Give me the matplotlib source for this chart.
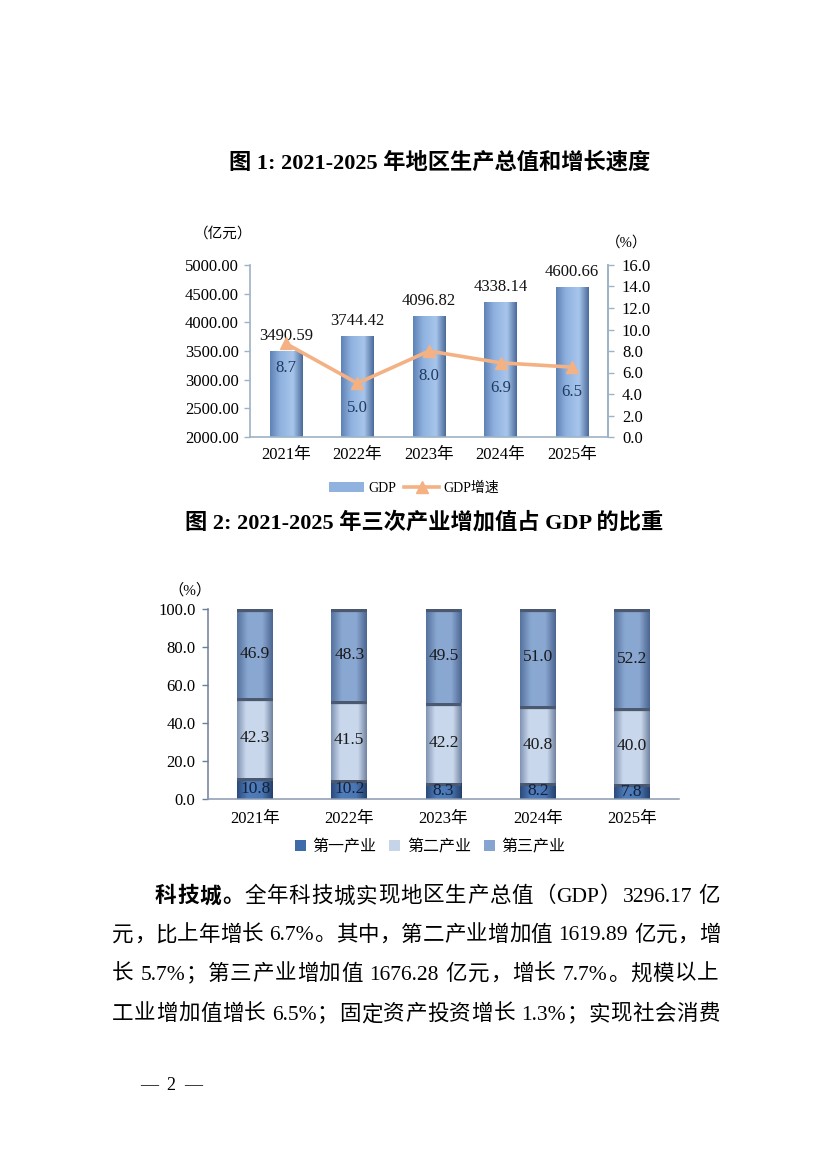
import re
import numpy as np
import matplotlib
matplotlib.use('Agg')
import matplotlib.pyplot as plt
from matplotlib.colors import LinearSegmentedColormap

plt.rcParams['font.family'] = ['Liberation Serif', 'Noto Sans CJK SC']
plt.rcParams['axes.unicode_minus'] = False

# ---- data ----
years = ['2021年', '2022年', '2023年', '2024年', '2025年']
gdp = [3490.59, 3744.42, 4096.82, 4338.14, 4600.66]
gdp_growth = [8.7, 5.0, 8.0, 6.9, 6.5]

primary = [10.8, 10.2, 8.3, 8.2, 7.8]
secondary = [42.3, 41.5, 42.2, 40.8, 40.0]
tertiary = [46.9, 48.3, 49.5, 51.0, 52.2]
sector_names = ['第一产业', '第二产业', '第三产业']

title1 = '图 1: 2021-2025 年地区生产总值和增长速度'
title2 = '图 2: 2021-2025 年三次产业增加值占 GDP 的比重'
body_lines = [
    [('科技城。', 'bold'), ('全年科技城实现地区生产总值（GDP）3296.17 亿', 'normal')],
    [('元，比上年增长 6.7%。其中，第二产业增加值 1619.89 亿元，增', 'normal')],
    [('长 5.7%；第三产业增加值 1676.28 亿元，增长 7.7%。规模以上', 'normal')],
    [('工业增加值增长 6.5%；固定资产投资增长 1.3%；实现社会消费', 'normal')],
]

W, H = 826, 1169
fig = plt.figure(figsize=(W / 100, H / 100), dpi=100)
fig.patch.set_facecolor('white')


def fx(px):
    return px / W


def fy(py):
    return 1 - py / H


def shade(ax, patch, stops):
    # horizontal gradient fill on a bar, kept inside the visible y range
    cmap = LinearSegmentedColormap.from_list('g', stops)
    x0, y0 = patch.get_x(), patch.get_y()
    w, h = patch.get_width(), patch.get_height()
    lo = max(y0, ax.get_ylim()[0])
    grad = np.linspace(0, 1, 128).reshape(1, -1)
    ax.imshow(grad, cmap=cmap, aspect='auto', extent=[x0, x0 + w, lo, y0 + h],
              zorder=patch.get_zorder() + 0.1, interpolation='bilinear')


x = np.arange(len(years))

# ---- chart 1 ----
ax1 = fig.add_axes([fx(250), fy(437), (608 - 250) / W, (437 - 265) / H])
bars = ax1.bar(x, gdp, width=0.45, color='#8FB2DF', zorder=2, label='GDP')
ax1.set_xlim(-0.5, 4.5)
ax1.set_ylim(2000, 5000)
for p in bars:
    shade(ax1, p, [(0, '#5F82B5'), (0.3, '#8EB1DF'), (0.7, '#A8C6EC'), (1, '#4A6A9A')])
ax1.set_xlim(-0.5, 4.5)
ax1.set_ylim(2000, 5000)
ax1.set_yticks(np.arange(2000, 5001, 500))
ax1.set_yticklabels([f'{v:.2f}' for v in np.arange(2000, 5001, 500)], fontsize=12)
ax1.set_xticks(x)
ax1.set_xticklabels(years, fontsize=12)
ax1.tick_params(axis='x', length=0, pad=7)
ax1.tick_params(axis='y', length=4, width=1, color='#9DB3C6', pad=4, direction='out')
ax1.spines['top'].set_visible(False)
for s in ['left', 'bottom', 'right']:
    ax1.spines[s].set_color('#9DB3C6')
    ax1.spines[s].set_linewidth(1.2)
for i, v in enumerate(gdp):
    ax1.annotate(f'{v:.2f}', (i, v), xytext=(0, 11.5), textcoords='offset points',
                 ha='center', va='center', fontsize=12, color='#111111')

ax2 = ax1.twinx()
line, = ax2.plot(x, gdp_growth, color='#F4B183', lw=2.6, marker='^', ms=9,
                 markeredgecolor='#F4B183', zorder=3, label='GDP增速')
ax2.set_ylim(0, 16)
ax2.set_yticks(np.arange(0, 16.1, 2))
ax2.set_yticklabels([f'{v:.1f}' for v in np.arange(0, 16.1, 2)], fontsize=12)
ax2.tick_params(axis='y', length=4, width=1, color='#9DB3C6', pad=6)
for s in ['top', 'left', 'bottom']:
    ax2.spines[s].set_visible(False)
ax2.spines['right'].set_color('#9DB3C6')
ax2.spines['right'].set_linewidth(1.2)
for i, v in enumerate(gdp_growth):
    ax2.annotate(f'{v:.1f}', (i, v), xytext=(0, -18), textcoords='offset points',
                 ha='center', va='center', fontsize=12, color='#1F3A60')

fig.text(fx(223), fy(234), '（亿元）', ha='center', va='center', fontsize=10.5)
fig.text(fx(627), fy(243), '（%）', ha='center', va='center', fontsize=10.5)

ax1.legend(handles=[bars, line], labels=['GDP', 'GDP增速'], loc='center',
           bbox_to_anchor=(fx(414), fy(488)), bbox_transform=fig.transFigure,
           ncol=2, frameon=False, fontsize=10, handlelength=2.5, handleheight=0.7,
           columnspacing=0.6, handletextpad=0.3)

# ---- chart 2 ----
ax3 = fig.add_axes([fx(208), fy(799), (679 - 208) / W, (799 - 609) / H])
bottom2 = np.array(primary)
bottom3 = bottom2 + np.array(secondary)
b1 = ax3.bar(x, primary, width=0.38, color='#3F6BA8', zorder=2, label=sector_names[0])
b2 = ax3.bar(x, secondary, width=0.38, bottom=bottom2, color='#C6D4EA', zorder=2, label=sector_names[1])
b3 = ax3.bar(x, tertiary, width=0.38, bottom=bottom3, color='#85A4CF', zorder=2, label=sector_names[2])
ax3.set_xlim(-0.5, 4.5)
ax3.set_ylim(0, 100)
stops = {
    0: [(0, '#2A4A7C'), (0.3, '#4F7DBB'), (0.7, '#4A77B4'), (1, '#233F6C')],
    1: [(0, '#7F93B2'), (0.25, '#C9D7EC'), (0.75, '#CAD8EC'), (1, '#6F82A0')],
    2: [(0, '#56729E'), (0.3, '#88A7D1'), (0.7, '#8AA8D2'), (1, '#4B6590')],
}
for k, cont in enumerate([b1, b2, b3]):
    for p in cont:
        shade(ax3, p, stops[k])
        top = p.get_y() + p.get_height()
        ln, = ax3.plot([p.get_x(), p.get_x() + p.get_width()], [top, top],
                       color='#4A5870', lw=4.5, solid_capstyle='butt', zorder=2.5)
        ln.set_clip_path(p)

for cont, vals, bots in [(b1, primary, np.zeros(5)), (b2, secondary, bottom2), (b3, tertiary, bottom3)]:
    for i, v in enumerate(vals):
        ax3.text(i, bots[i] + v / 2, f'{v:.1f}', ha='center', va='center',
                 fontsize=12.5, color='#15213A' if cont is b1 else '#1A1A1A', zorder=4)

ax3.set_xlim(-0.5, 4.5)
ax3.set_ylim(0, 100)
ax3.set_yticks(np.arange(0, 101, 20))
ax3.set_yticklabels([f'{v:.1f}' for v in np.arange(0, 101, 20)], fontsize=12)
ax3.set_xticks(x)
ax3.set_xticklabels(years, fontsize=12)
ax3.tick_params(axis='x', length=0, pad=9)
ax3.tick_params(axis='y', length=4, width=1, color='#6D7F95', pad=5)
for s in ['top', 'right']:
    ax3.spines[s].set_visible(False)
ax3.spines['left'].set_color('#6D7F95')
ax3.spines['bottom'].set_color('#8A9AB0')
ax3.spines['left'].set_linewidth(1.1)
ax3.spines['bottom'].set_linewidth(1.1)

fig.text(fx(190), fy(590), '（%）', ha='center', va='center', fontsize=11)

ax3.legend(handles=[b1, b2, b3], labels=sector_names, loc='center',
           bbox_to_anchor=(fx(430), fy(847)), bbox_transform=fig.transFigure,
           ncol=3, frameon=False, fontsize=11.5, handlelength=0.7, handleheight=0.7,
           columnspacing=0.8, handletextpad=0.4)

# ---- titles ----
fig.text(fx(440), fy(163), title1, ha='center', va='center', fontsize=16, fontweight='bold')
fig.text(fx(424), fy(523), title2, ha='center', va='center', fontsize=16, fontweight='bold')

# ---- body text, justified ----
renderer = fig.canvas.get_renderer()


def draw_justified(segments, x0, x1, y, size, space_px=6):
    items = []
    for txt, weight in segments:
        for tok in re.findall(r'[A-Za-z0-9.%]+|\S| ', txt):
            if tok == ' ':
                items.append(None)
                continue
            t = fig.text(0, fy(y), tok, fontsize=size, fontweight=weight, va='center', ha='left')
            items.append(t)
    widths = [space_px if t is None else t.get_window_extent(renderer).width for t in items]
    gap = (x1 - x0 - sum(widths)) / (len(items) - 1)
    pos = x0
    for t, w in zip(items, widths):
        if t is not None:
            t.set_x(fx(pos))
            pos += w + gap
        else:
            pos += w


line_y = [897, 936, 975, 1015]
for k, segs in enumerate(body_lines):
    draw_justified(segs, 155 if k == 0 else 112, 721, line_y[k], 15.5)

fig.text(fx(172), fy(1085), '—  2  —', ha='center', va='center', fontsize=13)

fig.savefig('out.png', dpi=100)
